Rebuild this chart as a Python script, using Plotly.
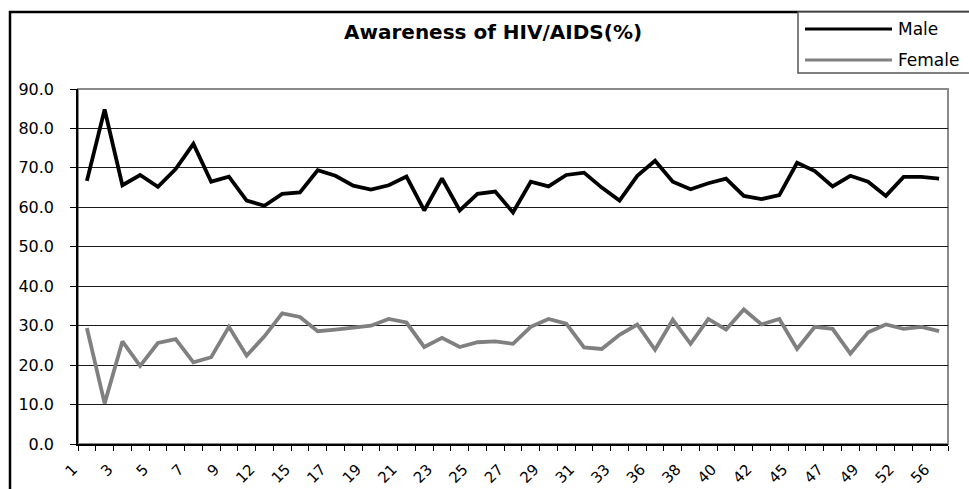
import plotly.graph_objects as go

# Awareness of HIV/AIDS (%) by district, male vs female
tick_labels = ["1", "3", "5", "7", "9", "12", "15", "17", "19", "21", "23", "25", "27",
               "29", "31", "33", "36", "38", "40", "42", "45", "47", "49", "52", "56"]

male = [66.7, 84.8, 65.6, 68.2, 65.2, 69.7, 76.1, 66.5, 67.8, 61.7,
        60.4, 63.4, 63.8, 69.4, 68.0, 65.5, 64.5, 65.6, 67.8, 59.2,
        67.3, 59.2, 63.4, 64.0, 58.7, 66.5, 65.3, 68.2, 68.8, 65.0,
        61.7, 68.0, 71.8, 66.5, 64.6, 66.1, 67.3, 62.9, 62.1, 63.1,
        71.3, 69.2, 65.3, 68.0, 66.5, 62.9, 67.7, 67.7, 67.3]

female = [29.4, 10.3, 26.0, 19.8, 25.6, 26.6, 20.7, 22.0, 29.7, 22.4,
          27.3, 33.1, 32.2, 28.6, 29.0, 29.6, 30.0, 31.7, 30.8, 24.6,
          26.9, 24.6, 25.8, 26.0, 25.4, 29.7, 31.7, 30.5, 24.5, 24.1,
          27.7, 30.3, 23.9, 31.5, 25.4, 31.7, 29.0, 34.1, 30.3, 31.7,
          24.1, 29.7, 29.2, 22.9, 28.3, 30.3, 29.2, 29.7, 28.6]

series_names = ["Male", "Female"]
series_colors = ["#000000", "#808080"]

W, H = 969, 489
M_L, M_R, M_T, M_B = 78, 21, 89, 45
PW, PH = W - M_L - M_R, H - M_T - M_B
FONT = "DejaVu Sans"


def px_x(p):
    return (p - M_L) / PW


def px_y(p):
    return (H - M_B - p) / PH


n = len(male)
xs = list(range(n))

fig = go.Figure()
for name, vals, col in zip(series_names, [male, female], series_colors):
    fig.add_trace(go.Scatter(x=xs, y=vals, mode="lines", name=name,
                             line=dict(color=col, width=3.8), showlegend=False))

shapes = [
    # plot area frame (grey, right side visible)
    dict(type="rect", xref="paper", yref="paper", x0=0, x1=1, y0=0, y1=1,
         line=dict(color="#8a8a8a", width=2), layer="below"),
    # outer chart border
    dict(type="rect", xref="paper", yref="paper", x0=px_x(10), x1=px_x(1010),
         y0=px_y(530), y1=px_y(12), line=dict(color="black", width=2.5)),
    # legend box
    dict(type="rect", xref="paper", yref="paper", x0=px_x(798), x1=px_x(1000),
         y0=px_y(73), y1=px_y(12), line=dict(color="#555555", width=1.5),
         fillcolor="white"),
]
annotations = [
    dict(text="<b>Awareness of HIV/AIDS(%)</b>", xref="paper", yref="paper",
         x=px_x(493), y=px_y(32), showarrow=False, xanchor="center", yanchor="middle",
         font=dict(family=FONT, size=20, color="black")),
]
for k, (name, col) in enumerate(zip(series_names, series_colors)):
    ly = [29, 60][k]
    shapes.append(dict(type="line", xref="paper", yref="paper",
                       x0=px_x(805), x1=px_x(892), y0=px_y(ly), y1=px_y(ly),
                       line=dict(color=col, width=3.2)))
    annotations.append(dict(text=name, xref="paper", yref="paper",
                            x=px_x(896), y=px_y(ly), showarrow=False,
                            xanchor="left", yanchor="middle",
                            font=dict(family=FONT, size=17, color="black")))

fig.update_layout(
    width=W, height=H,
    margin=dict(l=M_L, r=M_R, t=M_T, b=M_B, autoexpand=False),
    paper_bgcolor="white", plot_bgcolor="white",
    shapes=shapes, annotations=annotations,
    showlegend=False,
    font=dict(family=FONT, color="black"),
)

fig.update_xaxes(
    automargin=False,
    range=[-0.5, n - 0.5],
    tickmode="array",
    tickvals=xs[::2],
    ticktext=tick_labels,
    tickangle=-45,
    ticks="",
    ticklabelshift=-14,
    ticklabelstandoff=9,
    tickfont=dict(family=FONT, size=15, color="black"),
    showgrid=False, zeroline=False,
    showline=True, linecolor="black", linewidth=1.5,
    minor=dict(tickmode="array", tickvals=[i - 0.5 for i in range(n + 1)],
               ticks="outside", ticklen=5, tickcolor="black", tickwidth=1,
               showgrid=False),
)

fig.update_yaxes(
    automargin=False,
    range=[0, 90],
    tickmode="linear", tick0=0, dtick=10,
    tickformat=".1f",
    ticks="outside", ticklen=6, tickcolor="black", tickwidth=1,
    ticklabelstandoff=13,
    tickfont=dict(family=FONT, size=16, color="black"),
    showgrid=True, gridcolor="#1a1a1a", gridwidth=1,
    zeroline=False,
    showline=True, linecolor="black", linewidth=1.5,
)

fig.write_html("out.html")
